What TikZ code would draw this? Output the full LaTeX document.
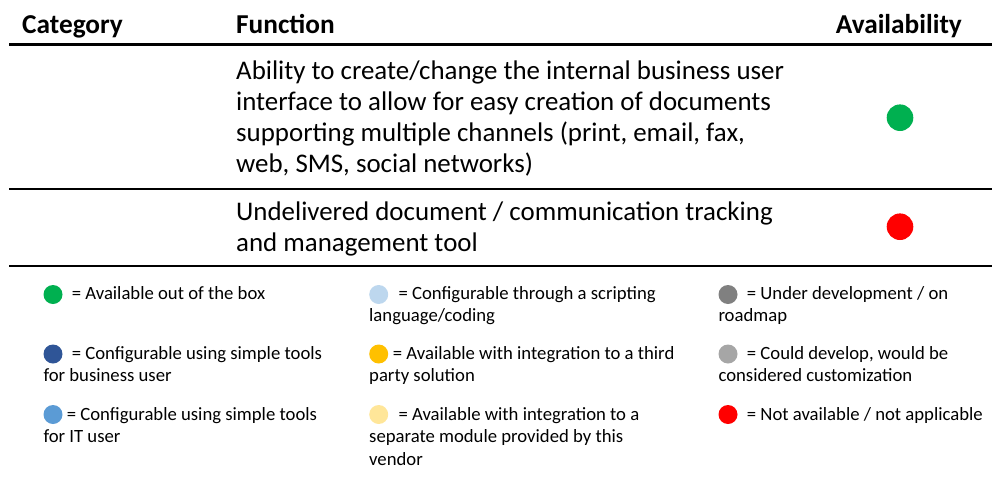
\documentclass[tikz,border=0pt]{standalone}
\usepackage{fontspec}
\setmainfont{Carlito}
\usepackage{tikz}
\definecolor{okgreen}{HTML}{00B050}
\definecolor{bizblue}{HTML}{2F5597}
\definecolor{itblue}{HTML}{5B9BD5}
\definecolor{scriptblue}{HTML}{BDD7EE}
\definecolor{partyorange}{HTML}{FFC000}
\definecolor{vendoryellow}{HTML}{FFE699}
\definecolor{devgrey}{HTML}{808080}
\definecolor{customgrey}{HTML}{A6A6A6}
\definecolor{nored}{HTML}{FF0000}

\begin{document}
\begin{tikzpicture}[x=1pt,y=-1pt,
    head/.style={font=\fontsize{27.3}{32}\selectfont\bfseries,inner sep=0pt},
    rowtext/.style={font=\fontsize{26.9}{30.7}\selectfont,inner sep=0pt,align=left,anchor=base west},
    legtext/.style={font=\fontsize{18.7}{22.5}\selectfont,inner sep=0pt,align=left,anchor=base west},
    rule/.style={line width=2.6pt},
    bigdot/.style={circle,inner sep=0pt,minimum size=26.6pt},
    legdot/.style={circle,inner sep=0pt,minimum size=19pt}]
    \useasboundingbox (0,0) rectangle (992,479);

    % header
    \node[head,anchor=base west] (cat) at (22,33) {Category};
    \node[head,anchor=base west] (fun) at (236,33) {Function};
    \node[head,anchor=base east] (avail) at (962,33) {Availability};
    \coordinate (h1) at (9,44.5);  \coordinate (h2) at (992,44.5);
    \draw[rule] (h1) -- (h2);

    % rows (anchored on the baseline of the last line)
    \node[rowtext] (f1) at (236,172) {Ability to create/change the internal business user\\interface to allow for easy creation of documents\\supporting multiple channels (print, email, fax,\\web, SMS, social networks)};
    \node[bigdot,fill=okgreen] (a1) at (900,117.7) {};
    \coordinate (r1) at (9,189); \coordinate (r2) at (992,189);
    \draw[rule] (r1) -- (r2);

    \node[rowtext] (f2) at (236,251.5) {Undelivered document / communication tracking\\and management tool};
    \node[bigdot,fill=nored] (a2) at (900,226.7) {};
    \coordinate (e1) at (9,266); \coordinate (e2) at (992,266);
    \draw[rule] (e1) -- (e2);

    % legend
    \foreach \n/\c/\x/\dy/\y/\o/\t in {
        1/okgreen/43.3/294.5/299/28.3/{= Available out of the box},
        2/bizblue/43.3/354/381.5/28.3/{= Configurable using simple tools\\for business user},
        3/itblue/43.3/414.5/442.5/23.3/{= Configurable using simple tools\\for IT user},
        4/scriptblue/369/294.5/321.5/29.3/{= Configurable through a scripting\\language/coding},
        5/partyorange/369/354/381.5/23.7/{= Available with integration to a third\\party solution},
        6/vendoryellow/369/414.5/465/29.3/{= Available with integration to a\\separate module provided by this\\vendor},
        7/devgrey/718.3/294.5/321.5/28.4/{= Under development / on\\roadmap},
        8/customgrey/718.3/354/381.5/28.4/{= Could develop, would be\\considered customization},
        9/nored/718.3/414.5/420/28.4/{= Not available / not applicable}} {
        \node[legdot,fill=\c,anchor=west] (d\n) at (\x,\dy) {};
        \node[legtext] (l\n) at (\x,\y) {\hspace*{\o pt}\t};
    }
\end{tikzpicture}
\end{document}
